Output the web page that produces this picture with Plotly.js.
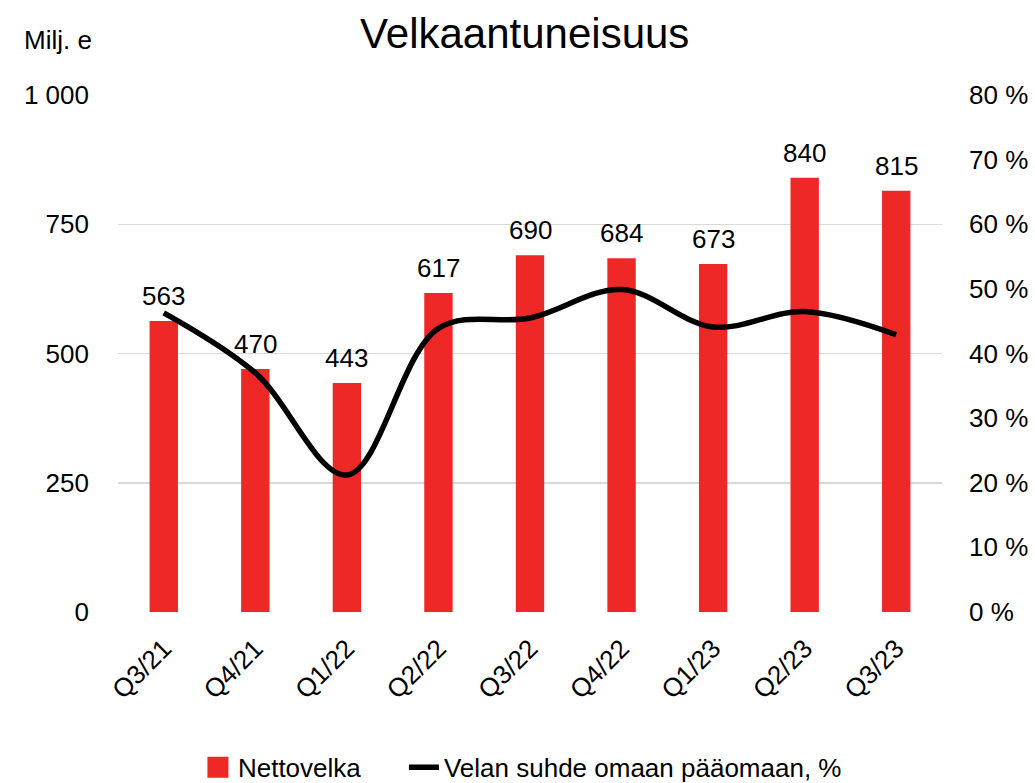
<!DOCTYPE html>
<html>
<head>
<meta charset="utf-8">
<script src="https://cdn.plot.ly/plotly-3.0.1.min.js"></script>
<style>html,body{margin:0;padding:0;background:#fff;}#chart{width:1035px;height:783px;}</style>
</head>
<body>
<div id="chart"></div>
<script>
const categories = ["Q3/21","Q4/21","Q1/22","Q2/22","Q3/22","Q4/22","Q1/23","Q2/23","Q3/23"];
const netDebt = [563, 470, 443, 617, 690, 684, 673, 840, 815];
const gearing = [46.3, 37.0, 21.2, 43.9, 45.5, 49.9, 44.1, 46.5, 42.9];
const leftTickVals = [0, 250, 500, 750, 1000];
const leftTickText = ["0", "250", "500", "750", "1 000"];
const rightTickVals = [0, 10, 20, 30, 40, 50, 60, 70, 80];
const rightTickText = rightTickVals.map(v => v + ' %');

const red = '#EE2826';
const font = 'Liberation Sans, Arial, sans-serif';
const fs = 26;

const traces = [
  {
    type: 'bar', x: categories, y: netDebt, name: 'Nettovelka',
    marker: {color: red}, width: 0.31, showlegend: false
  },
  {
    type: 'scatter', mode: 'markers', x: [null], y: [null], name: 'Nettovelka',
    marker: {color: red, symbol: 'square', size: 16, line: {color: red, width: 5}},
    showlegend: true, legendwidth: 161
  },
  {
    type: 'scatter', mode: 'lines', x: categories, y: gearing, yaxis: 'y2',
    name: 'Velan suhde omaan pääomaan, %', legendwidth: 420,
    line: {color: '#000', width: 5.5, shape: 'spline', smoothing: 1}
  }
];

const annotations = categories.map((c, i) => ({
  x: c, y: netDebt[i], xref: 'x', yref: 'y', text: String(netDebt[i]),
  showarrow: false, yanchor: 'bottom', yshift: 8,
  font: {family: font, size: fs, color: '#000'}
}));
annotations.push({
  xref: 'paper', yref: 'paper', x: -0.1165, y: 1.106, xanchor: 'left', yanchor: 'middle',
  text: 'Milj. e', showarrow: false, font: {family: font, size: fs, color: '#000'}
});

const layout = {
  width: 1035, height: 783,
  margin: {l: 118, r: 93, t: 95, b: 171},
  paper_bgcolor: '#fff', plot_bgcolor: '#fff',
  font: {family: font, size: fs, color: '#000'},
  title: {text: 'Velkaantuneisuus', font: {family: font, size: 42, color: '#000'},
          x: 0.507, xanchor: 'center', y: 0.958, yanchor: 'middle'},
  xaxis: {
    type: 'category', tickangle: -45, showgrid: false, zeroline: false,
    showline: false, ticks: '', ticklen: 0, automargin: false, ticklabelstandoff: 15,
    tickfont: {family: font, size: fs, color: '#000'}, range: [-0.5, 8.5]
  },
  yaxis: {
    range: [0, 1000], tickvals: leftTickVals, ticktext: leftTickText, automargin: false,
    showgrid: true, gridcolor: '#d9d9d9', gridwidth: 1.5, zeroline: false,
    showline: false, ticks: '', ticklen: 0, ticklabelstandoff: 28,
    tickfont: {family: font, size: fs, color: '#000'}
  },
  yaxis2: {
    overlaying: 'y', side: 'right', range: [0, 80], tickvals: rightTickVals,
    ticktext: rightTickText, showgrid: false, zeroline: false, showline: false,
    ticks: '', ticklen: 0, automargin: false, ticklabelstandoff: 26,
    tickfont: {family: font, size: fs, color: '#000'}
  },
  legend: {
    orientation: 'h', x: 0.097, xanchor: 'left', yref: 'container', y: 0.02, yanchor: 'middle',
    font: {family: font, size: fs, color: '#000'}, traceorder: 'normal'
  },
  annotations: annotations,
  showlegend: true
};

Plotly.newPlot('chart', traces, layout, {staticPlot: true, displayModeBar: false});
</script>
</body>
</html>
